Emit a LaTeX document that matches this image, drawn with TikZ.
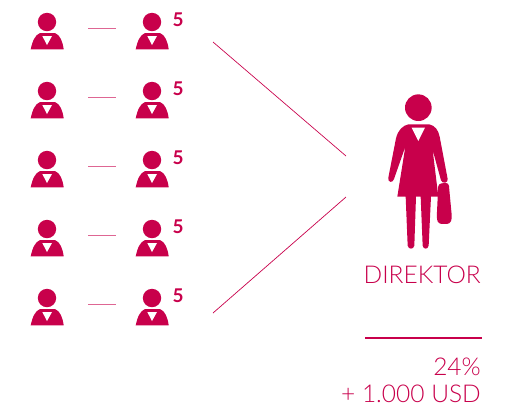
\documentclass[tikz,border=0pt]{standalone}
\usepackage{fontspec}
\setmainfont{Lato Light}
\newfontfamily\boldfont{Lato}
\definecolor{crimson}{RGB}{200,0,75}
\tikzset{
  manicon/.pic={
    \fill[crimson] (0,0) circle (9.2);
    \fill[crimson] (-16.3,27.3) .. controls (-14.5,19) and (-12,13) .. (-7,11) -- (8,11) .. controls (13,13) and (15.5,19) .. (16.7,27.3) -- cycle;
    \fill[white] (-4.7,14) -- (5,14) -- (0,23) -- cycle;
  },
  dashline/.style={crimson!60,line width=.6bp},
  rayline/.style={crimson,line width=.7bp},
  countlabel/.style={crimson,font=\boldfont\bfseries\fontsize{19}{19}\selectfont,inner sep=0pt},
  bigtext/.style={crimson,font=\fontsize{24.6}{24.6}\selectfont,inner sep=0pt,anchor=base east}
}
\begin{document}
\begin{tikzpicture}[x=1bp,y=-1bp]
\useasboundingbox (0,0) rectangle (509,406);
\foreach \row/\ypos in {1/22,2/91,3/160,4/229,5/298} {
  \pic at (47,\ypos) {manicon};
  \pic at (152,\ypos) {manicon};
  \coordinate (dashL\row) at (88,\ypos+6);
  \coordinate (dashR\row) at (116,\ypos+6);
  \draw[dashline] (dashL\row) -- (dashR\row);
  \node[countlabel] (count\row) at (178,\ypos-2) {5};
}
\coordinate (rayA) at (213,42);
\coordinate (rayB) at (346,156);
\coordinate (rayC) at (346,197);
\coordinate (rayD) at (213,313);
\draw[rayline] (rayA) -- (rayB);
\draw[rayline] (rayC) -- (rayD);
% woman, in thirds of a pixel
\begin{scope}[shift={(370,85)},x=.3333bp,y=-.3333bp]
\fill[crimson] (145,68) circle (40);
\fill[crimson] (115,118) -- (178,118) .. controls (195,122) and (205,135) .. (209,155) -- (233,282) .. controls (235,294) and (217,298) .. (213,286) -- (188,195) -- (205,335) -- (183,335) -- (176,482) .. controls (174,494) and (160,494) .. (158,482) -- (152,335) -- (138,335) -- (133,482) .. controls (131,494) and (115,494) .. (113,482) -- (107,335) -- (82,335) -- (106,185) -- (72,282) .. controls (68,296) and (52,292) .. (55,278) -- (78,160) .. controls (84,135) and (98,122) .. (115,118) -- cycle;
\fill[white] (125,128) -- (165,128) -- (145,168) -- cycle;
\fill[crimson,rounded corners=3bp] (205,296) -- (236,293) -- (246,400) -- (240,417) -- (206,417) -- (200,402) -- cycle;
\end{scope}
\node[bigtext] (title) at (481,283) {DIREKTOR};
\coordinate (ruleL) at (365,338);
\coordinate (ruleR) at (482,338);
\draw[crimson,line width=1.5bp] (ruleL) -- (ruleR);
\node[bigtext] (percent) at (481,375) {24\%};
\node[bigtext] (bonus) at (481,402) {+ 1.000 USD};
\end{tikzpicture}
\end{document}
